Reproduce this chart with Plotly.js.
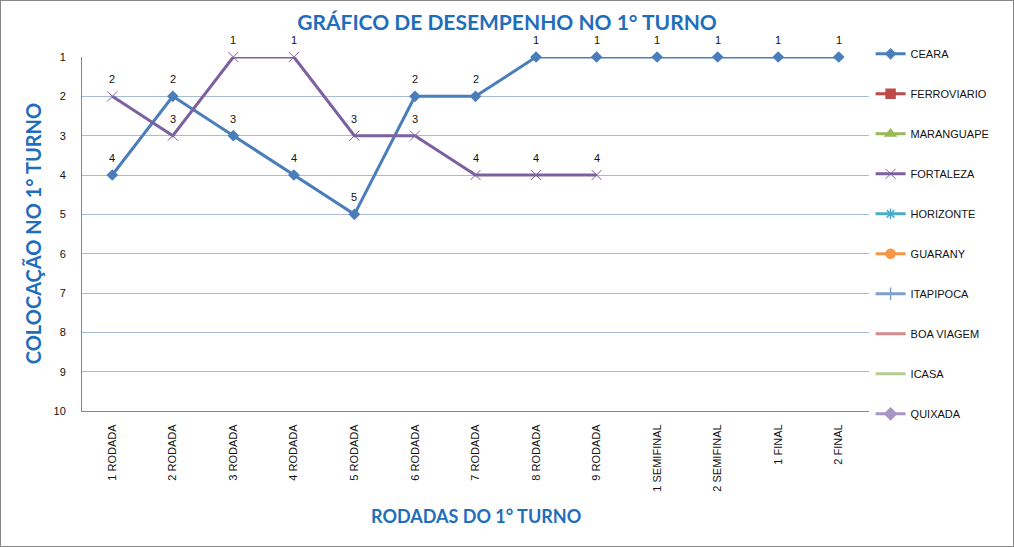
<!DOCTYPE html>
<html><head><meta charset="utf-8">
<script src="https://cdn.plot.ly/plotly-3.0.1.min.js"></script>
<style>html,body{margin:0;padding:0;background:#fff}#c{width:1012px;height:545px;border:1px solid #888}</style>
</head><body><div id="c"></div>
<script>
const categories=["1 RODADA","2 RODADA","3 RODADA","4 RODADA","5 RODADA","6 RODADA","7 RODADA","8 RODADA","9 RODADA","1 SEMIFINAL","2 SEMIFINAL","1 FINAL","2 FINAL"];
const ceara=[4,2,3,4,5,2,2,1,1,1,1,1,1];
const fortaleza=[2,3,1,1,3,3,4,4,4];
const yTicks=[1,2,3,4,5,6,7,8,9,10];
const emptyTeams=[
 {name:"FERROVIARIO",color:"#BE4B48",symbol:"square"},
 {name:"MARANGUAPE",color:"#98B954",symbol:"triangle-up"},
 {name:"FORTALEZA"},
 {name:"HORIZONTE",color:"#4BACC6",symbol:"asterisk-open"},
 {name:"GUARANY",color:"#F79646",symbol:"circle"},
 {name:"ITAPIPOCA",color:"#7F9FCB",symbol:"cross-thin-open"},
 {name:"BOA VIAGEM",color:"#D38C8B",symbol:"line-ew-open"},
 {name:"ICASA",color:"#B5CC8E",symbol:null},
 {name:"QUIXADA",color:"#A895C6",symbol:"diamond"}
];
const lblFont={family:"Liberation Sans, Arial",size:11,color:"#111"};
const traces=[];
traces.push({x:categories,y:ceara,name:"CEARA",type:"scatter",mode:"lines+markers",cliponaxis:false,
 line:{color:"#4A7EBB",width:3},marker:{symbol:"diamond",size:9,color:"#4A7EBB"},legendgroup:"g0"});
emptyTeams.forEach((t,i)=>{
 if(t.name==="FORTALEZA"){
  traces.push({x:categories.slice(0,fortaleza.length),y:fortaleza,name:"FORTALEZA",type:"scatter",mode:"lines+markers",cliponaxis:false,
   line:{color:"#7D60A0",width:3},marker:{symbol:"x-thin-open",size:10,color:"#7D60A0",line:{color:"#7D60A0",width:1}},legendgroup:"g"+(i+1)});
 } else {
  const tr={x:categories,y:categories.map(()=>null),name:t.name,type:"scatter",
   mode:t.symbol?"lines+markers":"lines",line:{color:t.color,width:3},legendgroup:"g"+(i+1)};
  if(t.symbol) tr.marker={symbol:t.symbol,size:9,color:t.color,line:{color:t.color,width:1.5}};
  traces.push(tr);
 }
});
const labelAnns=[];
ceara.forEach((v,i)=>labelAnns.push({x:categories[i],y:v,xref:"x",yref:"y",text:String(v),showarrow:false,yshift:17,font:lblFont}));
fortaleza.forEach((v,i)=>labelAnns.push({x:categories[i],y:v,xref:"x",yref:"y",text:String(v),showarrow:false,yshift:17,font:lblFont}));
const layout={
 width:1012,height:545,paper_bgcolor:"#fff",plot_bgcolor:"#fff",
 margin:{l:81,r:144,t:56,b:135},
 font:{family:"Liberation Sans, Arial",size:11,color:"#111"},
 title:{text:"GRÁFICO DE DESEMPENHO NO 1° TURNO",font:{family:"Lato, Open Sans",size:21,color:"#1F6EBB",weight:"bold"},x:0.5,xanchor:"center",y:0.96,yanchor:"middle",yref:"container"},
 xaxis:{type:"category",range:[-0.5,12.5],tickangle:-90,showgrid:false,showline:true,linecolor:"#868686",linewidth:1,ticks:"",tickfont:{family:"Liberation Sans, Arial",size:11,color:"#111"},ticklabelstandoff:8,fixedrange:true},
 yaxis:{range:[10,1],tickvals:yTicks,showgrid:true,gridcolor:"#A7BAD6",gridwidth:1,showline:true,linecolor:"#868686",ticks:"",zeroline:false,tickfont:{family:"Liberation Sans, Arial",size:11,color:"#111"},ticklabelstandoff:13},
 showlegend:true,
 legend:{x:1.002,xanchor:"left",y:1.05,yanchor:"top",maxheight:1,tracegroupgap:21,font:{family:"Liberation Sans, Arial",size:11,color:"#111"},itemwidth:30,bgcolor:"rgba(0,0,0,0)"},
 annotations:labelAnns.concat([
  {text:"COLOCAÇÃO NO 1° TURNO",xref:"paper",yref:"paper",x:-0.062,y:0.5,xanchor:"center",yanchor:"middle",textangle:-90,showarrow:false,font:{family:"Lato, Open Sans",size:20,color:"#1F6EBB",weight:"bold"}},
  {text:"RODADAS DO 1° TURNO",xref:"paper",yref:"paper",x:0.501,y:-0.297,xanchor:"center",yanchor:"middle",showarrow:false,font:{family:"Lato, Open Sans",size:18,color:"#1F6EBB",weight:"bold"}}
 ])
};
Plotly.newPlot("c",traces,layout,{displayModeBar:false,staticPlot:true});
</script></body></html>
